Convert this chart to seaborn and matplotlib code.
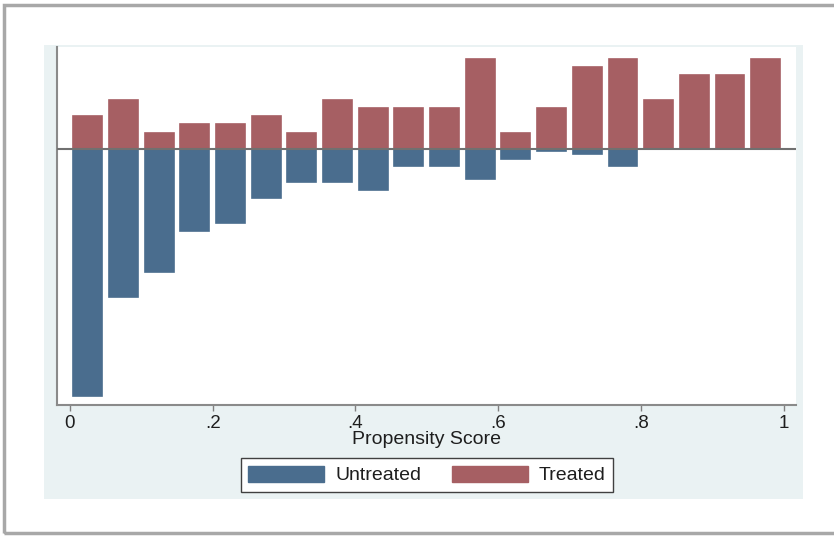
import numpy as np
import pandas as pd
import matplotlib
matplotlib.use('Agg')
import matplotlib.pyplot as plt
from matplotlib.patches import Patch, Rectangle
import seaborn as sns

# Propensity score histogram (20 bins of width .05)
bin_centers = [0.025, 0.075, 0.125, 0.175, 0.225, 0.275, 0.325, 0.375, 0.425, 0.475,
               0.525, 0.575, 0.625, 0.675, 0.725, 0.775, 0.825, 0.875, 0.925, 0.975]
treated = [4, 6, 2, 3, 3, 4, 2, 6, 5, 5, 5, 11, 2, 5, 10, 11, 6, 9, 9, 11]
untreated = [30, 18, 15, 10, 9, 6, 4, 4, 5, 2, 2, 3.6, 1.2, 0.2, 0.6, 2, 0, 0, 0, 0]
xticks = [0, 0.2, 0.4, 0.6, 0.8, 1]
xtick_labels = ['0', '.2', '.4', '.6', '.8', '1']

blue = '#4A6D8E'
red = '#A65F63'

sns.set_style('white')
plt.rcParams['font.family'] = ['Liberation Sans', 'DejaVu Sans']

df_t = pd.DataFrame({'score': bin_centers, 'freq': treated})
df_u = pd.DataFrame({'score': bin_centers, 'freq': [-v for v in untreated]})

fig = plt.figure(figsize=(8.34, 5.40), dpi=100)
fig.patch.set_facecolor('white')

# outer frame and graph region
fig.patches.append(Rectangle((4 / 834, 1 - 533 / 540), 1.2, 528 / 540, transform=fig.transFigure,
                             facecolor='none', edgecolor='#A8A8A8', lw=2.5, zorder=-2))
fig.patches.append(Rectangle((44 / 834, 1 - 499 / 540), 759 / 834, 454 / 540, transform=fig.transFigure,
                             facecolor='#EAF2F3', edgecolor='none', zorder=-2))

ax = fig.add_axes([57 / 834, 1 - 405 / 540, 739 / 834, 358 / 540])
ax.set_facecolor('white')

sns.barplot(data=df_t, x='score', y='freq', native_scale=True, width=0.81, color=red,
            saturation=1, errorbar=None, edgecolor=red, linewidth=1.2, ax=ax)
sns.barplot(data=df_u, x='score', y='freq', native_scale=True, width=0.81, color=blue,
            saturation=1, errorbar=None, edgecolor=blue, linewidth=1.2, ax=ax)

ax.axhline(0, color='#707070', lw=1.5, zorder=5)

ax.set_xlim(-0.0182, 1.0175)
ax.set_ylim(-31.1, 12.4)
ax.set_yticks([])
ax.set_ylabel('')
ax.set_xticks(xticks)
ax.set_xticklabels(xtick_labels)
ax.tick_params(axis='x', length=4.5, width=1, color='#808080', labelsize=13.5,
               labelcolor='#1e1e1e', pad=3, bottom=True)
ax.set_xlabel('Propensity Score', fontsize=14, color='#1e1e1e', labelpad=-1)

for s in ['top', 'right']:
    ax.spines[s].set_visible(False)
for s in ['left', 'bottom']:
    ax.spines[s].set_color('#8A8A8A')
    ax.spines[s].set_linewidth(1.5)

handles = [Patch(facecolor=blue, edgecolor=blue, label='Untreated'),
           Patch(facecolor=red, edgecolor=red, label='Treated')]
leg = fig.legend(handles=handles, loc='center', bbox_to_anchor=(427 / 834, 1 - 475 / 540),
                 ncol=2, fontsize=14, frameon=True, fancybox=False, framealpha=1,
                 handlelength=3.9, handleheight=0.9, handletextpad=0.55, columnspacing=1.6,
                 borderpad=0.4, borderaxespad=0)
leg.get_frame().set_edgecolor('#404040')
leg.get_frame().set_linewidth(1)
for t in leg.get_texts():
    t.set_color('#1e1e1e')

fig.savefig('out.png', dpi=100, facecolor='white')
